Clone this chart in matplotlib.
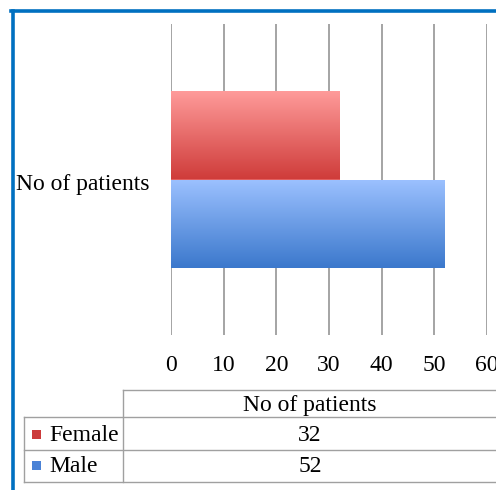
import numpy as np
import matplotlib
matplotlib.use("Agg")
import matplotlib.pyplot as plt
from matplotlib.colors import LinearSegmentedColormap
from matplotlib.patches import Rectangle
from matplotlib.lines import Line2D

categories = ["No of patients"]
series_names = ["Female", "Male"]
female_values = [32]
male_values = [52]
x_ticks = [0, 10, 20, 30, 40, 50, 60]

W, H = 496, 490
fig = plt.figure(figsize=(W / 100, H / 100), dpi=100)
FONT = "Liberation Serif"
FS = 17


def fx(px):
    return px / W


def fy(py):
    return 1 - py / H


ax = fig.add_axes([fx(171), fy(335), fx(487) - fx(171), fy(24) - fy(335)])
ax.set_xlim(0, 60)
ax.set_ylim(-0.5, 0.5)
for s in ax.spines.values():
    s.set_visible(False)
ax.set_xticks(x_ticks)
ax.set_yticks([])
ax.tick_params(axis="x", length=0, pad=14.5)
ax.set_xticklabels([str(t) for t in x_ticks], fontsize=FS, family=FONT)
for lab in ax.get_xticklabels():
    lab.set_clip_on(False)
ax.grid(axis="x", color="#8c8c8c", linewidth=1.1)
ax.set_axisbelow(True)

bar_h = 0.283
y0 = np.arange(len(categories))
fem = ax.barh(y0 + bar_h / 2, female_values, height=bar_h, color="#e06060",
              edgecolor="none", zorder=2)
mal = ax.barh(y0 - bar_h / 2, male_values, height=bar_h, color="#5a8ede",
              edgecolor="none", zorder=2)

cmap_f = LinearSegmentedColormap.from_list("f", ["#cf3c3a", "#ff9c9b"])
cmap_m = LinearSegmentedColormap.from_list("m", ["#3b78cc", "#9cc1ff"])
grad = np.linspace(0, 1, 256).reshape(-1, 1)
for bars, cm in ((fem, cmap_f), (mal, cmap_m)):
    for b in bars:
        x, y = b.get_x(), b.get_y()
        w, h = b.get_width(), b.get_height()
        im = ax.imshow(grad, cmap=cm, aspect="auto", origin="lower",
                       extent=(x, x + w, y, y + h), zorder=3)
        im.set_clip_path(b)

ax.set_xlim(0, 60)
ax.set_ylim(-0.5, 0.5)

# category label
for i, c in enumerate(categories):
    fig.text(fx(149), fy(184), c, ha="right", va="center", fontsize=FS, family=FONT)

# outer border
fig.add_artist(Line2D([fx(12.5), fx(12.5)], [fy(11), 0], color="#0070c0", lw=2.6))
fig.add_artist(Line2D([fx(11), 1], [fy(11.5), fy(11.5)], color="#0070c0", lw=2.6))

# data table
gc = "#a0a0a0"
lw = 1.0
fig.add_artist(Line2D([fx(123), 1], [fy(390), fy(390)], color=gc, lw=lw))
fig.add_artist(Line2D([fx(24), 1], [fy(417), fy(417)], color=gc, lw=lw))
fig.add_artist(Line2D([fx(24), 1], [fy(450), fy(450)], color=gc, lw=lw))
fig.add_artist(Line2D([fx(24), 1], [fy(482), fy(482)], color=gc, lw=lw))
fig.add_artist(Line2D([fx(123), fx(123)], [fy(390), fy(482)], color=gc, lw=lw))
fig.add_artist(Line2D([fx(24), fx(24)], [fy(417), fy(482)], color=gc, lw=lw))

fig.text(fx(310), fy(405), categories[0], ha="center", va="center", fontsize=FS, family=FONT)
row_y = [435, 466]
vals = [female_values[0], male_values[0]]
sq_cols = [("#e66a6a", "#cc3b3b"), ("#8ab3f0", "#4a82d6")]
for name, v, ry, sc in zip(series_names, vals, row_y, sq_cols):
    fig.add_artist(Rectangle((fx(32), fy(ry + 3.5)), fx(9), fy(0) - fy(9),
                             transform=fig.transFigure, facecolor=sc[1], edgecolor="none"))
    fig.text(fx(49), fy(ry), name, ha="left", va="center", fontsize=FS, family=FONT)
    fig.text(fx(310), fy(ry), str(v), ha="center", va="center", fontsize=FS, family=FONT)

fig.savefig("out.png", dpi=100)
